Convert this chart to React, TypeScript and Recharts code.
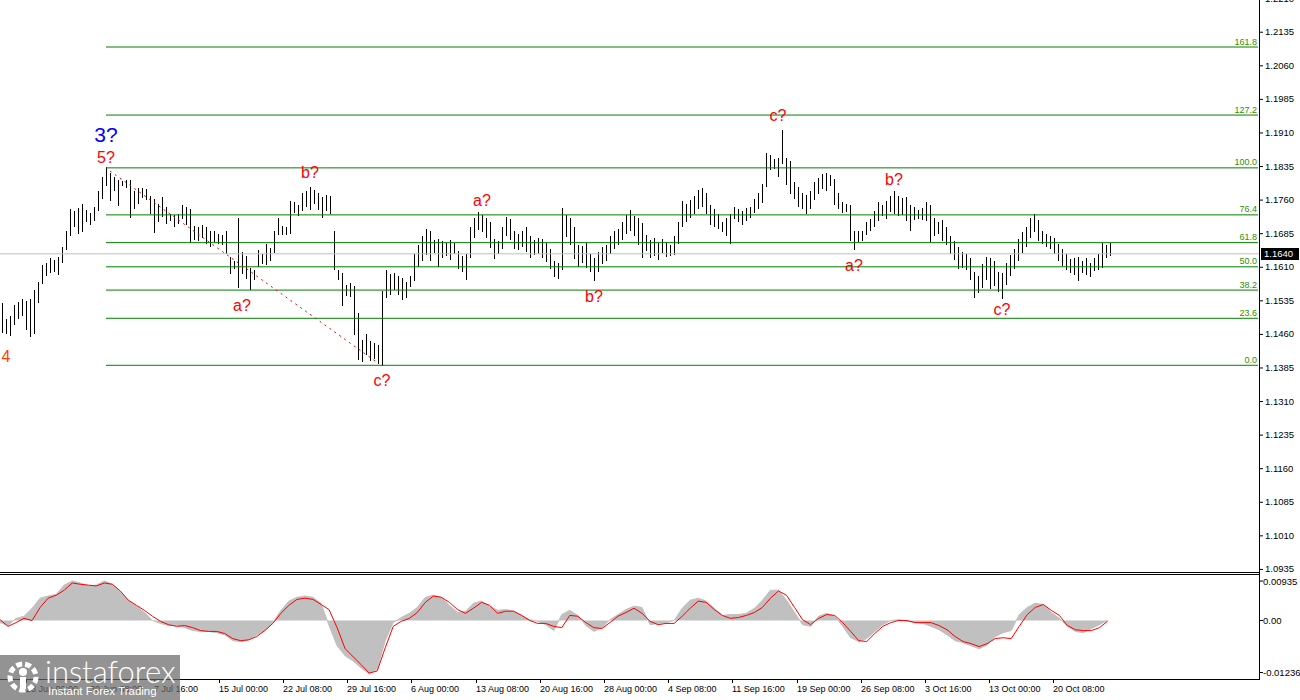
import React from "react";
import { ComposedChart, Bar, Line, Area, XAxis, YAxis, ReferenceLine, ReferenceDot } from "recharts";

// H4 bars (high / low per bar)
const highs = [
  1.1530, 1.1494, 1.1500, 1.1525, 1.1532, 1.1538, 1.1534, 1.1540, 1.1560, 1.1578,
  1.1615, 1.1620, 1.1630, 1.1626, 1.1632, 1.1655, 1.1690, 1.1740, 1.1736, 1.1742,
  1.1752, 1.1738, 1.1732, 1.1745, 1.1780, 1.1812, 1.1833, 1.1821, 1.1812, 1.1806,
  1.1802, 1.1804, 1.1804, 1.1780, 1.1786, 1.1788, 1.1784, 1.1770, 1.1762, 1.1752,
  1.1766, 1.1745, 1.1730, 1.1726, 1.1728, 1.1748, 1.1744, 1.1740, 1.1703, 1.1699,
  1.1704, 1.1699, 1.1692, 1.1690, 1.1684, 1.1681, 1.1692, 1.1632, 1.1625, 1.1719,
  1.1645, 1.1636, 1.1608, 1.1603, 1.1648, 1.1640, 1.1661, 1.1654, 1.1690, 1.1719,
  1.1703, 1.1699, 1.1759, 1.1755, 1.1748, 1.1775, 1.1780, 1.1790, 1.1782, 1.1776,
  1.1768, 1.1772, 1.1770, 1.1690, 1.1603, 1.1598, 1.1570, 1.1574, 1.1568, 1.1507,
  1.1447, 1.1460, 1.1445, 1.1440, 1.1436, 1.1558, 1.1603, 1.1596, 1.1598, 1.1590,
  1.1585, 1.1578, 1.1590, 1.1640, 1.1660, 1.1680, 1.1695, 1.1690, 1.1670, 1.1672,
  1.1668, 1.1664, 1.1670, 1.1665, 1.1646, 1.1636, 1.1640, 1.1700, 1.1720, 1.1734,
  1.1726, 1.1720, 1.1712, 1.1672, 1.1668, 1.1700, 1.1723, 1.1718, 1.1690, 1.1684,
  1.1690, 1.1700, 1.1680, 1.1670, 1.1676, 1.1672, 1.1664, 1.1650, 1.1625, 1.1620,
  1.1743, 1.1726, 1.1720, 1.1700, 1.1660, 1.1658, 1.1665, 1.1640, 1.1630, 1.1645,
  1.1655, 1.1660, 1.1680, 1.1690, 1.1695, 1.1712, 1.1726, 1.1737, 1.1725, 1.1720,
  1.1708, 1.1681, 1.1670, 1.1676, 1.1665, 1.1672, 1.1666, 1.1660, 1.1680, 1.1710,
  1.1758, 1.1752, 1.1760, 1.1770, 1.1782, 1.1788, 1.1776, 1.1750, 1.1740, 1.1730,
  1.1712, 1.1720, 1.1730, 1.1745, 1.1740, 1.1736, 1.1742, 1.1745, 1.1762, 1.1775,
  1.1795, 1.1866, 1.1860, 1.1852, 1.1855, 1.1916, 1.1855, 1.1848, 1.1800, 1.1790,
  1.1775, 1.1772, 1.1780, 1.1800, 1.1810, 1.1818, 1.1820, 1.1815, 1.1808, 1.1775,
  1.1755, 1.1752, 1.1750, 1.1690, 1.1690, 1.1692, 1.1710, 1.1718, 1.1735, 1.1755,
  1.1750, 1.1757, 1.1770, 1.1781, 1.1770, 1.1765, 1.1768, 1.1750, 1.1745, 1.1738,
  1.1742, 1.1755, 1.1750, 1.1720, 1.1712, 1.1716, 1.1700, 1.1680, 1.1668, 1.1655,
  1.1645, 1.1640, 1.1630, 1.1600, 1.1590, 1.1618, 1.1632, 1.1630, 1.1625, 1.1600,
  1.1597, 1.1620, 1.1638, 1.1650, 1.1672, 1.1688, 1.1700, 1.1720, 1.1730, 1.1716,
  1.1690, 1.1685, 1.1680, 1.1676, 1.1662, 1.1650, 1.1640, 1.1628, 1.1630, 1.1632,
  1.1625, 1.1630, 1.1620, 1.1630, 1.1640, 1.1665, 1.1660, 1.1664,
];

const lows = [
  1.1462, 1.1460, 1.1456, 1.1480, 1.1494, 1.1500, 1.1470, 1.1455, 1.1462, 1.1530,
  1.1572, 1.1590, 1.1596, 1.1600, 1.1592, 1.1620, 1.1648, 1.1680, 1.1700, 1.1684,
  1.1690, 1.1712, 1.1706, 1.1714, 1.1736, 1.1762, 1.1790, 1.1759, 1.1781, 1.1748,
  1.1790, 1.1786, 1.1719, 1.1740, 1.1750, 1.1766, 1.1760, 1.1730, 1.1685, 1.1712,
  1.1722, 1.1708, 1.1714, 1.1699, 1.1706, 1.1716, 1.1703, 1.1663, 1.1672, 1.1668,
  1.1676, 1.1660, 1.1656, 1.1666, 1.1662, 1.1659, 1.1641, 1.1594, 1.1608, 1.1563,
  1.1596, 1.1585, 1.1558, 1.1581, 1.1610, 1.1618, 1.1614, 1.1625, 1.1640, 1.1681,
  1.1683, 1.1681, 1.1685, 1.1730, 1.1724, 1.1735, 1.1745, 1.1739, 1.1750, 1.1737,
  1.1722, 1.1736, 1.1730, 1.1603, 1.1581, 1.1525, 1.1545, 1.1543, 1.1458, 1.1402,
  1.1398, 1.1413, 1.1400, 1.1405, 1.1394, 1.1391, 1.1540, 1.1550, 1.1560, 1.1548,
  1.1536, 1.1543, 1.1565, 1.1580, 1.1610, 1.1625, 1.1636, 1.1622, 1.1641, 1.1610,
  1.1630, 1.1636, 1.1625, 1.1640, 1.1605, 1.1600, 1.1583, 1.1630, 1.1676, 1.1694,
  1.1688, 1.1676, 1.1654, 1.1628, 1.1640, 1.1650, 1.1680, 1.1672, 1.1650, 1.1648,
  1.1654, 1.1645, 1.1630, 1.1636, 1.1641, 1.1630, 1.1622, 1.1605, 1.1590, 1.1585,
  1.1605, 1.1676, 1.1660, 1.1628, 1.1610, 1.1620, 1.1610, 1.1600, 1.1578, 1.1600,
  1.1616, 1.1625, 1.1640, 1.1650, 1.1660, 1.1672, 1.1683, 1.1690, 1.1680, 1.1660,
  1.1630, 1.1645, 1.1630, 1.1635, 1.1628, 1.1640, 1.1632, 1.1636, 1.1638, 1.1660,
  1.1700, 1.1712, 1.1720, 1.1730, 1.1740, 1.1745, 1.1730, 1.1705, 1.1700, 1.1696,
  1.1690, 1.1680, 1.1663, 1.1718, 1.1712, 1.1704, 1.1712, 1.1720, 1.1730, 1.1740,
  1.1752, 1.1790, 1.1826, 1.1830, 1.1812, 1.1841, 1.1795, 1.1775, 1.1762, 1.1745,
  1.1740, 1.1730, 1.1740, 1.1760, 1.1775, 1.1785, 1.1780, 1.1790, 1.1750, 1.1740,
  1.1730, 1.1735, 1.1670, 1.1648, 1.1665, 1.1670, 1.1680, 1.1692, 1.1700, 1.1712,
  1.1726, 1.1716, 1.1735, 1.1730, 1.1725, 1.1728, 1.1715, 1.1692, 1.1715, 1.1718,
  1.1716, 1.1712, 1.1668, 1.1680, 1.1685, 1.1670, 1.1660, 1.1640, 1.1625, 1.1605,
  1.1610, 1.1605, 1.1580, 1.1543, 1.1552, 1.1565, 1.1580, 1.1560, 1.1570, 1.1555,
  1.1540, 1.1570, 1.1590, 1.1605, 1.1622, 1.1640, 1.1655, 1.1675, 1.1690, 1.1668,
  1.1660, 1.1655, 1.1650, 1.1640, 1.1625, 1.1612, 1.1605, 1.1596, 1.1592, 1.1578,
  1.1598, 1.1592, 1.1588, 1.1600, 1.1604, 1.1610, 1.1630, 1.1634,
];

// MACD panel, one reading per two bars
const macdHist = [
  -0.0005, -0.0012, 0.0005, 0.0010, 0.0029, 0.0053, 0.0058, 0.0062, 0.0084, 0.0094,
  0.0089, 0.0082, 0.0084, 0.0094, 0.0086, 0.0067, 0.0048, 0.0034, 0.0019, 0.0000,
  -0.0007, -0.0012, -0.0012, -0.0017, -0.0024, -0.0026, -0.0026, -0.0029, -0.0034, -0.0048,
  -0.0050, -0.0046, -0.0034, -0.0024, -0.0005, 0.0024, 0.0046, 0.0055, 0.0058, 0.0055,
  0.0041, -0.0012, -0.0060, -0.0084, -0.0096, -0.0113, -0.0127, -0.0115, -0.0048, -0.0005,
  0.0007, 0.0017, 0.0031, 0.0055, 0.0060, 0.0055, 0.0036, 0.0019, 0.0022, 0.0041,
  0.0046, 0.0034, 0.0024, 0.0026, 0.0022, 0.0012, 0.0002, -0.0002, -0.0010, -0.0024,
  0.0014, 0.0024, 0.0012, -0.0012, -0.0026, -0.0017, 0.0002, 0.0014, 0.0026, 0.0034,
  0.0031, -0.0010, -0.0007, -0.0005, 0.0000, 0.0029, 0.0048, 0.0053, 0.0046, 0.0029,
  0.0012, 0.0014, 0.0014, 0.0017, 0.0029, 0.0048, 0.0072, 0.0072, 0.0048, 0.0019,
  -0.0010, -0.0014, 0.0010, 0.0017, 0.0010, -0.0014, -0.0041, -0.0050, -0.0043, -0.0026,
  -0.0010, 0.0000, 0.0002, -0.0002, -0.0005, -0.0007, -0.0014, -0.0022, -0.0034, -0.0048,
  -0.0053, -0.0060, -0.0067, -0.0058, -0.0038, -0.0029, -0.0024, 0.0014, 0.0031, 0.0041,
  0.0038, 0.0019, 0.0005, -0.0014, -0.0026, -0.0029, -0.0019, -0.0010, 0.0000,
];

const macdSignal = [
  0.0002, -0.0014, -0.0005, 0.0005, 0.0000, 0.0031, 0.0053, 0.0060, 0.0072, 0.0089,
  0.0086, 0.0084, 0.0082, 0.0089, 0.0086, 0.0070, 0.0048, 0.0036, 0.0024, 0.0010,
  -0.0002, -0.0010, -0.0014, -0.0012, -0.0017, -0.0024, -0.0026, -0.0026, -0.0031, -0.0043,
  -0.0048, -0.0046, -0.0038, -0.0024, -0.0007, 0.0017, 0.0036, 0.0050, 0.0053, 0.0050,
  0.0038, 0.0026, -0.0017, -0.0067, -0.0086, -0.0105, -0.0125, -0.0120, -0.0065, -0.0014,
  -0.0002, 0.0005, 0.0019, 0.0043, 0.0058, 0.0055, 0.0043, 0.0026, 0.0017, 0.0029,
  0.0043, 0.0036, 0.0017, 0.0022, 0.0022, 0.0012, 0.0000, -0.0007, -0.0007, -0.0014,
  -0.0017, 0.0012, 0.0010, -0.0005, -0.0017, -0.0019, -0.0005, 0.0010, 0.0019, 0.0029,
  0.0017, -0.0002, -0.0010, -0.0007, -0.0007, 0.0010, 0.0029, 0.0046, 0.0043, 0.0026,
  0.0012, 0.0005, 0.0007, 0.0012, 0.0019, 0.0031, 0.0053, 0.0070, 0.0060, 0.0031,
  0.0002, -0.0010, 0.0005, 0.0014, 0.0012, -0.0005, -0.0026, -0.0048, -0.0050, -0.0031,
  -0.0014, -0.0005, 0.0000, 0.0000, -0.0005, -0.0005, -0.0005, -0.0012, -0.0022, -0.0038,
  -0.0050, -0.0055, -0.0062, -0.0055, -0.0043, -0.0041, -0.0043, -0.0014, 0.0014, 0.0031,
  0.0038, 0.0024, 0.0012, -0.0012, -0.0022, -0.0024, -0.0024, -0.0017, -0.0002,
];

const priceTicks = [
  1.0935, 1.101, 1.1085, 1.116, 1.1235, 1.131, 1.1385, 1.146, 1.1535,
  1.161, 1.1685, 1.176, 1.1835, 1.191, 1.1985, 1.206, 1.2135, 1.221,
];
const macdTicks = [0.00935, 0, -0.01236];
const macdTickLabels = ["0.00935", "0.00", "-0.01236"];

const dateLabels = [
  "23 Jun 00:00", "30 Jun 08:00", "7 Jul 16:00", "15 Jul 00:00", "22 Jul 08:00",
  "29 Jul 16:00", "6 Aug 00:00", "13 Aug 08:00", "20 Aug 16:00", "28 Aug 00:00",
  "4 Sep 08:00", "11 Sep 16:00", "19 Sep 00:00", "26 Sep 08:00", "3 Oct 16:00",
  "13 Oct 00:00", "20 Oct 08:00",
];
const dateSlots = [3, 11, 19, 27, 35, 43, 51, 59, 67, 75, 83, 91, 99, 107, 115, 123, 131];

// fibonacci grid drawn from the 5? high to the c? low
const fibNames = ["0.0", "23.6", "38.2", "50.0", "61.8", "76.4", "100.0", "127.2", "161.8"];
const fibPrices = [1.1391, 1.1496, 1.1559, 1.1611, 1.1665, 1.1727, 1.1832, 1.1950, 1.2102];
const fibStart = 26;

const lastPrice = 1.164;

const waveText = ["3?", "5?", "4", "a?", "b?", "c?", "a?", "b?", "c?", "a?", "b?", "c?"];
const waveSlot = [26, 26, 1, 60, 77, 95, 120, 148, 194, 213, 223, 250];
const wavePrice = [1.1907, 1.1856, 1.141, 1.1524, 1.1821, 1.1358, 1.1758, 1.1544, 1.195, 1.1615, 1.1805, 1.1515];
const waveColor = ["#0000ff", "#ff0000", "#ff3c00", "#ff0000", "#ff0000", "#ff0000", "#ff0000", "#ff0000", "#ff0000", "#ff0000", "#ff0000", "#ff0000"];

const SLOTS = 315;
const MACD_SLOTS = 158;
const FONT = "'Liberation Sans', Arial, sans-serif";

const priceRows = Array.from({ length: SLOTS }, (_, i) => ({
  slot: i,
  range: i < highs.length ? [lows[i], highs[i]] : null,
}));

const macdRows = Array.from({ length: MACD_SLOTS }, (_, i) => ({
  slot: i,
  hist: i < macdHist.length ? macdHist[i] : null,
  sig: i < macdSignal.length ? macdSignal[i] : null,
}));

function PriceBar(props: any) {
  const { x, y, width, height, payload } = props;
  if (!payload || !payload.range) return null;
  const top = Math.min(y, y + height);
  const h = Math.max(1, Math.abs(height));
  return (
    <rect
      x={Math.round(x + width / 2 - 0.5)}
      y={Math.round(top)}
      width={1}
      height={Math.round(h)}
      fill="#000"
      shapeRendering="crispEdges"
    />
  );
}

function PriceTick(props: any) {
  const { x, y, payload } = props;
  return (
    <g>
      <line x1={x} x2={x + 3} y1={y} y2={y} stroke="#000" />
      <text x={x + 5} y={y + 3} fontSize={9.5} fill="#000" fontFamily={FONT}>
        {Number(payload.value).toFixed(4)}
      </text>
    </g>
  );
}

function MacdTick(props: any) {
  const { x, y, payload } = props;
  const n = macdTicks.indexOf(payload.value);
  return (
    <g>
      <line x1={x} x2={x + 3} y1={y} y2={y} stroke="#000" />
      <text x={x + 3} y={y + 3.5} fontSize={9.5} fill="#000" fontFamily={FONT}>
        {macdTickLabels[n]}
      </text>
    </g>
  );
}

function DateTick(props: any) {
  const { x, y, payload } = props;
  const n = dateSlots.indexOf(payload.value);
  const tx = Math.round(x) + 2;
  return (
    <g>
      <line x1={tx + 0.5} x2={tx + 0.5} y1={y} y2={y + 4} stroke="#000" />
      <text x={tx} y={y + 13} fontSize={9} fill="#000" fontFamily={FONT}>
        {dateLabels[n]}
      </text>
    </g>
  );
}

export default function App() {
  return (
    <div
      style={{
        position: "absolute",
        left: 0,
        top: 0,
        width: 1300,
        height: 700,
        background: "#fff",
        fontFamily: FONT,
        overflow: "hidden",
      }}
    >
      <div style={{ position: "absolute", left: 0, top: 0 }}>
        <ComposedChart
          width={1300}
          height={573}
          data={priceRows}
          margin={{ top: 0, right: 0, bottom: 0, left: 0 }}
          barCategoryGap={0}
          style={{ overflow: "visible" }}
        >
          <XAxis dataKey="slot" type="category" hide />
          <YAxis
            orientation="right"
            width={40}
            domain={[1.0927, 1.2207]}
            allowDataOverflow
            ticks={priceTicks}
            interval={0}
            axisLine={false}
            tickLine={false}
            tickSize={0}
            tickMargin={0}
            tick={<PriceTick />}
          />
          <ReferenceLine y={lastPrice} stroke="#c0c0c0" />
          {fibPrices.map((p, n) => (
            <ReferenceLine
              key={"fib" + n}
              segment={[{ x: fibStart, y: p }, { x: SLOTS - 1, y: p }]}
              stroke="#008000"
            />
          ))}
          <ReferenceLine
            segment={[{ x: 27, y: 1.1825 }, { x: 94, y: 1.1396 }]}
            stroke="#ff0000"
            strokeDasharray="2 4"
          />
          <Bar dataKey="range" barSize={1} shape={PriceBar} isAnimationActive={false} />
          {fibPrices.map((p, n) => (
            <ReferenceDot
              key={"fibl" + n}
              x={SLOTS - 1}
              y={p}
              r={1}
              shape={(d: any) => (
                <text x={d.cx - 1} y={d.cy - 2.5} textAnchor="end" fontSize={9} fill="#2f8f00" fontFamily={FONT}>
                  {fibNames[n]}
                </text>
              )}
            />
          ))}
          {waveText.map((t, n) => (
            <ReferenceDot
              key={"w" + n}
              x={waveSlot[n]}
              y={wavePrice[n]}
              r={1}
              shape={(d: any) => (
                <text
                  x={d.cx}
                  y={d.cy}
                  textAnchor="middle"
                  dominantBaseline="central"
                  fontSize={n === 0 ? 21 : 16}
                  fill={waveColor[n]}
                  fontFamily={FONT}
                >
                  {t}
                </text>
              )}
            />
          ))}
          <ReferenceDot
            x={SLOTS - 1}
            y={lastPrice}
            r={1}
            shape={(d: any) => (
              <g>
                <rect x={d.cx + 3} y={Math.round(d.cy) - 6} width={38} height={12} fill="#000" />
                <text x={d.cx + 6} y={d.cy + 3.5} fontSize={9.5} fill="#fff" fontFamily={FONT}>
                  {lastPrice.toFixed(4)}
                </text>
              </g>
            )}
          />
        </ComposedChart>
      </div>

      <div style={{ position: "absolute", left: 0, top: 575 }}>
        <ComposedChart
          width={1300}
          height={125}
          data={macdRows}
          margin={{ top: 0, right: 0, bottom: 0, left: 0 }}
        >
          <XAxis
            dataKey="slot"
            type="category"
            ticks={dateSlots}
            interval={0}
            height={21}
            axisLine={false}
            tickLine={false}
            tickSize={0}
            tickMargin={0}
            tick={<DateTick />}
          />
          <YAxis
            orientation="right"
            width={40}
            domain={[-0.0139, 0.0108]}
            allowDataOverflow
            ticks={macdTicks}
            interval={0}
            axisLine={false}
            tickLine={false}
            tickSize={0}
            tickMargin={0}
            tick={<MacdTick />}
          />
          <Area
            dataKey="hist"
            type="linear"
            fill="#c0c0c0"
            fillOpacity={1}
            stroke="#c0c0c0"
            strokeWidth={1}
            baseValue={0}
            isAnimationActive={false}
          />
          <Line
            dataKey="sig"
            type="linear"
            stroke="#ff0000"
            strokeWidth={1}
            dot={false}
            isAnimationActive={false}
          />
        </ComposedChart>
      </div>

      {/* frame lines */}
      <div style={{ position: "absolute", left: 1259, top: 0, width: 1, height: 680, background: "#000" }} />
      <div style={{ position: "absolute", left: 0, top: 572, width: 1260, height: 1, background: "#000" }} />
      <div style={{ position: "absolute", left: 0, top: 574, width: 1260, height: 1, background: "#000" }} />
      <div style={{ position: "absolute", left: 0, top: 679, width: 1260, height: 1, background: "#000" }} />

      {/* watermark */}
      <div
        style={{
          position: "absolute",
          left: 0,
          top: 655,
          width: 180,
          height: 45,
          background: "rgba(105,105,105,0.72)",
          color: "#fff",
        }}
      >
        <svg width={44} height={45} style={{ position: "absolute", left: 2, top: 0 }}>
          <circle cx={21} cy={22} r={13} fill="none" stroke="#fff" strokeWidth={5} strokeDasharray="6 3" />
          <circle cx={21} cy={17} r={4} fill="#fff" />
          <rect x={18} y={22} width={6} height={12} fill="#fff" />
        </svg>
        <div style={{ position: "absolute", left: 45, top: 0, fontSize: 31, lineHeight: "32px", fontFamily: "Lato, sans-serif", fontWeight: 300 }}>
          instaforex
        </div>
        <div style={{ position: "absolute", left: 48, top: 30, fontSize: 11.5, lineHeight: "13px", fontFamily: FONT }}>
          Instant Forex Trading
        </div>
      </div>
    </div>
  );
}
